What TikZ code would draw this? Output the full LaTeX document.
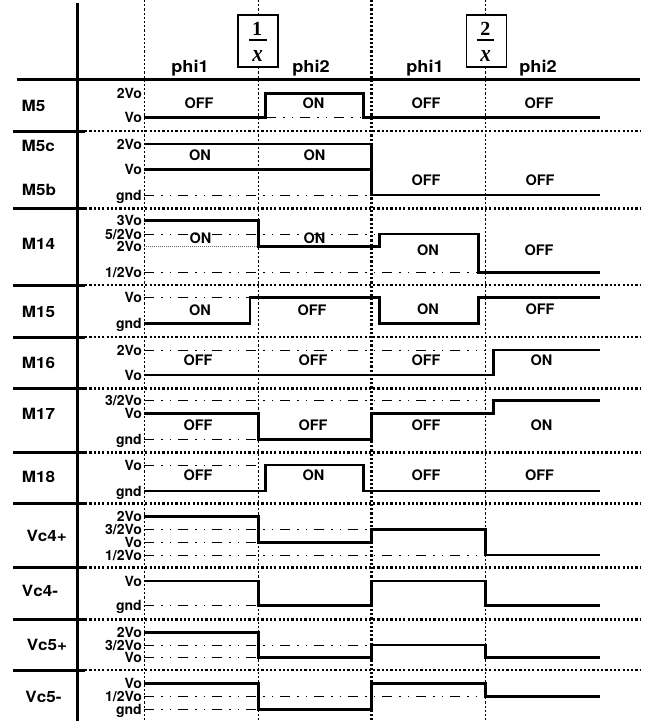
\documentclass[tikz,border=0pt]{standalone}
\usepackage{fontspec}
\usepackage{amsmath}
\newfontfamily\hv{TeX Gyre Heros}
\newfontfamily\tms{Liberation Serif}
\newcommand\wide[1]{\scalebox{1.1}[1]{#1}}
\tikzset{
  sig/.style={line width=2.8pt, line join=miter},
  refl/.style={line width=1pt, dash pattern=on 10pt off 7pt on 1.5pt off 7pt on 1.5pt off 7pt},
  fined/.style={line width=0.9pt, black!60, dash pattern=on 1pt off 1pt},
  sepsolid/.style={line width=3pt},
  sepdot/.style={line width=2.5pt, dash pattern=on 2.2pt off 2.1pt},
  vthin/.style={line width=1.2pt, dash pattern=on 2.2pt off 2pt},
  vthick/.style={line width=3pt, dash pattern=on 2.2pt off 2pt},
  lvl/.style={anchor=base east, inner sep=0pt, font=\hv\bfseries\fontsize{14}{14}\selectfont},
  st/.style={inner sep=0pt, font=\hv\bfseries\fontsize{14.5}{14.5}\selectfont},
  rowlab/.style={inner sep=0pt, font=\hv\bfseries\fontsize{15.5}{15.5}\selectfont},
  phil/.style={anchor=base, inner sep=0pt, font=\hv\bfseries\fontsize{16.5}{16.5}\selectfont},
  fracbox/.style={draw, fill=white, line width=1.8pt, minimum width=40pt, minimum height=52pt, inner sep=0pt},
  fracnum/.style={anchor=base, inner sep=0pt, font=\tms\bfseries\fontsize{20}{20}\selectfont},
  fracden/.style={anchor=base, inner sep=0pt, font=\tms\bfseries\itshape\fontsize{20}{20}\selectfont},
}
\newcommand\lv[3]{\node[lvl] (#1) at (142,#2+5) {#3};}
\newcommand\stl[4]{\node[st] (#1) at (#2,#3) {#4};}
\begin{document}
\begin{tikzpicture}[x=1pt,y=-1pt]
\useasboundingbox (0,0) rectangle (649,721);
% vertical phase lines
\coordinate (v1t) at (144.3,0);   \coordinate (v1b) at (144.3,721);
\coordinate (v2t) at (258.3,0);   \coordinate (v2b) at (258.3,721);
\coordinate (v3t) at (371.7,0);   \coordinate (v3b) at (371.7,721);
\coordinate (v4t) at (485.7,0);   \coordinate (v4b) at (485.7,721);
\draw[vthin] (v1t) -- (v1b);
\draw[vthin] (v2t) -- (v2b);
\draw[vthick] (v3t) -- (v3b);
\draw[vthin] (v4t) -- (v4b);
% main frame
\coordinate (mvt) at (77,2.5); \coordinate (mvb) at (77,721);
\draw[line width=3pt] (mvt) -- (mvb);
\coordinate (hl) at (16.5,79); \coordinate (hr) at (640,79);
\draw[line width=3pt] (hl) -- (hr);
% row separators
\foreach \yy in {131,208.3,285,337,388.3,452.7,503.3,567.7,619.3,670}{
  \draw[sepsolid] (13,\yy) -- (85,\yy);
  \draw[sepdot] (85,\yy) -- (641,\yy);
}
% reference levels
\draw[refl] (266,117.3) -- (363,117.3);
\draw[refl] (144,195) -- (371.7,195);
\draw[refl] (144,234) -- (379,234);
\draw[fined] (144,246.7) -- (258.3,246.7);
\draw[refl] (144,272.7) -- (478,272.7);
\draw[refl] (144,297.7) -- (250,297.7);
\draw[refl] (144,350) -- (486,350);
\draw[refl] (144,400.7) -- (486,400.7);
\draw[refl] (144,439.3) -- (258,439.3);
\draw[refl] (144,465) -- (258,465);
\draw[refl] (144,529.3) -- (371.7,529.3);
\draw[refl] (144,542.3) -- (258,542.3);
\draw[refl] (144,555) -- (485.7,555);
\draw[refl] (144,605.7) -- (258,605.7);
\draw[refl] (144,645) -- (371.7,645);
\draw[refl] (144,657.7) -- (258,657.7);
\draw[refl] (144,696.7) -- (485.7,696.7);
\draw[refl] (144,709.3) -- (258,709.3);
% signals
\draw[sig] (144,117.3) -- (265.7,117.3) -- (265.7,93.3) -- (363.3,93.3) -- (363.3,117.3) -- (600,117.3);
\draw[sig] (144,144) -- (371.7,144);
\draw[sig] (144,169.3) -- (371.7,169.3);
\draw[sig] (371.7,144) -- (371.7,195) -- (600,195);
\draw[sig] (144,220.7) -- (258.3,220.7) -- (258.3,246.7) -- (379.3,246.7) -- (379.3,234) -- (478.3,234) -- (478.3,272.7) -- (600,272.7);
\draw[sig] (144,323.3) -- (250,323.3) -- (250,297.7) -- (379.3,297.7) -- (379.3,323.3) -- (478.3,323.3) -- (478.3,297.7) -- (600,297.7);
\draw[sig] (144,375) -- (493.3,375) -- (493.3,350) -- (600,350);
\draw[sig] (144,413.3) -- (258.3,413.3) -- (258.3,439.3) -- (371.7,439.3) -- (371.7,413.3) -- (493.3,413.3) -- (493.3,400.7) -- (600,400.7);
\draw[sig] (144,491) -- (265.7,491) -- (265.7,465) -- (363.3,465) -- (363.3,491) -- (600,491);
\draw[sig] (144,516.7) -- (258.3,516.7) -- (258.3,542.3) -- (371.7,542.3) -- (371.7,529.3) -- (485.7,529.3) -- (485.7,555) -- (600,555);
\draw[sig] (144,581) -- (258.3,581) -- (258.3,605.7) -- (371.7,605.7) -- (371.7,581) -- (485.7,581) -- (485.7,605.7) -- (600,605.7);
\draw[sig] (144,632.3) -- (258.3,632.3) -- (258.3,657.7) -- (371.7,657.7) -- (371.7,645) -- (485.7,645) -- (485.7,657.7) -- (600,657.7);
\draw[sig] (144,683.3) -- (258.3,683.3) -- (258.3,709.3) -- (371.7,709.3) -- (371.7,683.3) -- (485.7,683.3) -- (485.7,696.7) -- (600,696.7);
% header
\node[phil] (p1a) at (190,72) {\wide{phi1}};
\node[phil] (p2a) at (311,72) {\wide{phi2}};
\node[phil] (p1b) at (425,72) {\wide{phi1}};
\node[phil] (p2b) at (538,72) {\wide{phi2}};
\node[fracbox] (box1) at (258.3,40.8) {};
\node[fracnum] (num1) at (257,35) {1};
\draw[line width=1.6pt] (249.3,40) -- (266.7,40);
\node[fracden] (den1) at (257.5,61.5) {\scalebox{1.05}[1.2]{x}};
\node[fracbox] (box2) at (486.5,40.8) {};
\node[fracnum] (num2) at (485.3,35) {2};
\draw[line width=1.6pt] (476.7,40) -- (494,40);
\node[fracden] (den2) at (485.5,61.5) {\scalebox{1.05}[1.2]{x}};
% row labels
\node[rowlab] (rM5) at (33.5,105.5) {\wide{M5}};
\node[rowlab] (rM5c) at (38.3,146) {\wide{M5c}};
\node[rowlab] (rM5b) at (39,190) {\wide{M5b}};
\node[rowlab] (rM14) at (38.5,244) {\wide{M14}};
\node[rowlab] (rM15) at (38.5,312) {\wide{M15}};
\node[rowlab] (rM16) at (38.5,363) {\wide{M16}};
\node[rowlab] (rM17) at (38.5,414) {\wide{M17}};
\node[rowlab] (rM18) at (38.5,477) {\wide{M18}};
\node[rowlab] (rV4p) at (46.7,535.5) {\wide{Vc4+}};
\node[rowlab] (rV4m) at (40,591) {\wide{Vc4-}};
\node[rowlab] (rV5p) at (47,645) {\wide{Vc5+}};
\node[rowlab] (rV5m) at (43.5,697) {\wide{Vc5-}};
% level labels
\lv{a1}{93.3}{2Vo} \lv{a2}{117.3}{Vo}
\lv{b1}{144}{2Vo} \lv{b2}{169.3}{Vo} \lv{b3}{195}{gnd}
\lv{c1}{220.7}{3Vo} \lv{c2}{234}{5/2Vo} \lv{c3}{246.7}{2Vo} \lv{c4}{272.7}{1/2Vo}
\lv{d1}{297.7}{Vo} \lv{d2}{323.3}{gnd}
\lv{e1}{350}{2Vo} \lv{e2}{375}{Vo}
\lv{f1}{400.7}{3/2Vo} \lv{f2}{413.3}{Vo} \lv{f3}{439.3}{gnd}
\lv{g1}{465}{Vo} \lv{g2}{491}{gnd}
\lv{h1}{516.7}{2Vo} \lv{h2}{529.3}{3/2Vo} \lv{h3}{542.3}{Vo} \lv{h4}{555}{1/2Vo}
\lv{i1}{581}{Vo} \lv{i2}{605.7}{gnd}
\lv{j1}{632.3}{2Vo} \lv{j2}{645}{3/2Vo} \lv{j3}{657.7}{Vo}
\lv{k1}{683.3}{Vo} \lv{k2}{696.7}{1/2Vo} \lv{k3}{709.3}{gnd}
% state labels
\stl{sa1}{199}{103}{OFF} \stl{sa2}{313.5}{103}{ON} \stl{sa3}{426}{103}{OFF} \stl{sa4}{539}{103}{OFF}
\stl{sb1}{200}{155}{ON} \stl{sb2}{314.5}{155}{ON} \stl{sb3}{426}{180.5}{OFF} \stl{sb4}{540}{180.5}{OFF}
\stl{sc1}{200.5}{238.5}{ON} \stl{sc2}{314.5}{238.5}{ON} \stl{sc3}{428}{250.5}{ON} \stl{sc4}{539}{250.5}{OFF}
\stl{sd1}{200}{310}{ON} \stl{sd2}{312}{310}{OFF} \stl{sd3}{428}{309}{ON} \stl{sd4}{540}{309}{OFF}
\stl{se1}{198}{360.5}{OFF} \stl{se2}{313}{360.5}{OFF} \stl{se3}{426}{360}{OFF} \stl{se4}{541.5}{360}{ON}
\stl{sf1}{198}{425}{OFF} \stl{sf2}{313}{425}{OFF} \stl{sf3}{426}{425}{OFF} \stl{sf4}{541.5}{425}{ON}
\stl{sg1}{198}{475}{OFF} \stl{sg2}{313.5}{475}{ON} \stl{sg3}{426}{475}{OFF} \stl{sg4}{539.5}{475}{OFF}
\end{tikzpicture}
\end{document}
